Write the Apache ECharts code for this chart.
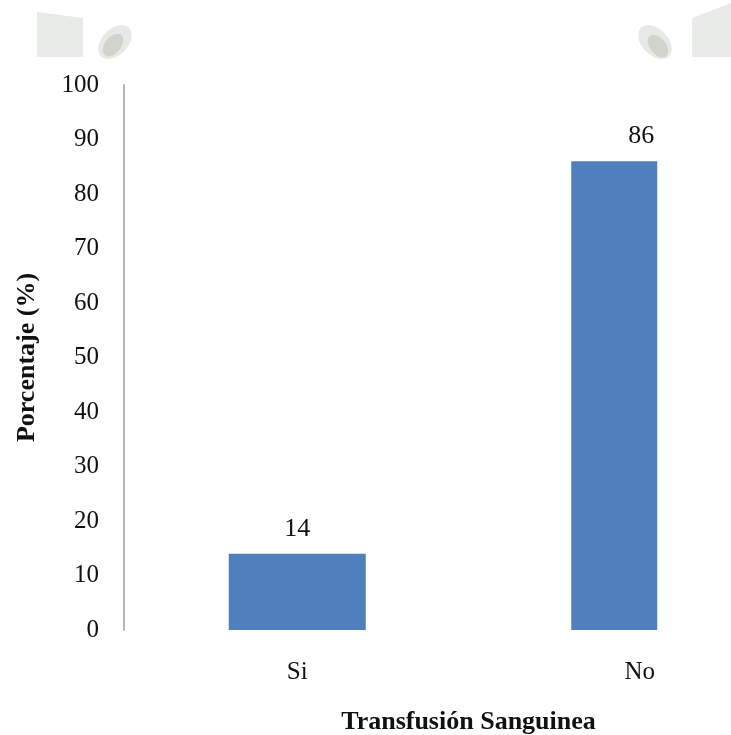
<!DOCTYPE html>
<html><head><meta charset="utf-8">
<script src="https://cdn.jsdelivr.net/npm/echarts@6/dist/echarts.min.js"></script>
<style>html,body{margin:0;padding:0;background:#fff}#c{width:731px;height:735px}</style>
</head><body><div id="c"></div>
<script>
const categories = ['Si', 'No'];
const values = [14, 86];
const barWidths = [137, 86];
const yMin = 0, yMax = 100, yStep = 10;
const xTitle = 'Transfusión Sanguinea';
const yTitle = 'Porcentaje (%)';

const FONT = "'Liberation Serif','Times New Roman',serif";
const BLUE = '#4f80bd';
// the label of the narrower bar sits over the category centre, not over the bar
const labelShift = [0, 27];

// one series per category so each bar can keep its own width; order No first, Si second
const order = [1, 0];
const series = order.map(k => ({
  type: 'bar',
  name: categories[k],
  data: values.map((v, i) => i === k ? v : '-'),
  barWidth: barWidths[k],
  barGap: '-100%',
  itemStyle: { color: BLUE },
  label: { show: true, position: 'top', distance: 12, offset: [labelShift[k], 0], color: '#111', fontFamily: FONT, fontSize: 26 }
}));

const chart = echarts.init(document.getElementById('c'), null, { renderer: 'canvas' });
chart.setOption({
  backgroundColor: '#fff',
  animation: false,
  graphic: [
    { type: 'polygon', shape: { points: [[37, 12], [83, 18], [83, 57], [37, 57]] }, style: { fill: '#e9ebe8' }, silent: true },
    { type: 'ellipse', x: 115, y: 42, rotation: 0.8, shape: { cx: 0, cy: 0, rx: 20, ry: 13 }, style: { fill: '#e6e9e5' }, silent: true },
    { type: 'ellipse', x: 113, y: 45, rotation: 0.9, shape: { cx: 0, cy: 0, rx: 13, ry: 8 }, style: { fill: '#cfd4cd' }, silent: true },
    { type: 'polygon', shape: { points: [[692, 18], [731, 3], [731, 57], [692, 57]] }, style: { fill: '#e9ebe8' }, silent: true },
    { type: 'ellipse', x: 655, y: 42, rotation: -0.8, shape: { cx: 0, cy: 0, rx: 20, ry: 13 }, style: { fill: '#e6e9e5' }, silent: true },
    { type: 'ellipse', x: 658, y: 46, rotation: -0.9, shape: { cx: 0, cy: 0, rx: 13, ry: 8 }, style: { fill: '#cfd4cd' }, silent: true }
  ],
  grid: { left: 126, top: 85, width: 685, height: 545, containLabel: false, outerBoundsMode: 'none' },
  xAxis: {
    type: 'category',
    data: categories,
    axisLine: { show: false },
    axisTick: { show: false },
    axisLabel: { color: '#111', fontFamily: FONT, fontSize: 25, margin: 30 },
    name: xTitle,
    nameLocation: 'middle',
    nameGap: 79,
    nameTextStyle: { color: '#111', fontFamily: FONT, fontSize: 26, fontWeight: 'bold' }
  },
  yAxis: {
    type: 'value',
    min: yMin, max: yMax, interval: yStep,
    offset: 2,
    axisLine: { show: true, lineStyle: { color: '#b5b5b5', width: 2 } },
    axisTick: { show: false },
    splitLine: { show: false },
    axisLabel: { color: '#111', fontFamily: FONT, fontSize: 25, margin: 25 },
    name: yTitle,
    nameLocation: 'middle',
    nameRotate: 90,
    nameGap: 84,
    nameTextStyle: { color: '#111', fontFamily: FONT, fontSize: 26, fontWeight: 'bold' }
  },
  series: series
});
</script></body></html>
